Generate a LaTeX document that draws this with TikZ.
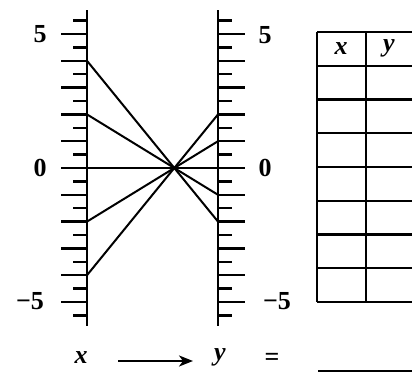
\documentclass[tikz,border=0pt]{standalone}
\usepackage{fontspec}
\setmainfont{Liberation Serif}
\usetikzlibrary{arrows.meta}
\begin{document}
\begin{tikzpicture}[x=1pt,y=-1pt,
  axisline/.style={line width=2.6pt},
  tickline/.style={line width=2.4pt},
  mapline/.style={line width=2pt},
  tabline/.style={line width=2.4pt},
  numlab/.style={font=\fontsize{26}{26}\selectfont\bfseries, inner sep=0pt},
  varlab/.style={font=\fontsize{26}{26}\selectfont\bfseries\itshape, inner sep=0pt}]
\useasboundingbox (0,0) rectangle (412,375);
\clip (0,0) rectangle (412,375);
% axes: value v -> y = 168 - 26.8 v
\coordinate (Ltop) at (87,10);
\coordinate (Lbot) at (87,326);
\coordinate (Rtop) at (218,10);
\coordinate (Rbot) at (218,326);
\draw[axisline] (Ltop) -- (Lbot);
\draw[axisline] (Rtop) -- (Rbot);
\foreach \v in {-5,...,5} {
  \draw[tickline] (61,{168-26.8*\v}) -- (87,{168-26.8*\v});
  \draw[tickline] (218,{168-26.8*\v}) -- (245,{168-26.8*\v});
}
\foreach \v in {-5.5,-4.5,...,5.5} {
  \draw[tickline] (73,{168-26.8*\v}) -- (87,{168-26.8*\v});
  \draw[tickline] (218,{168-26.8*\v}) -- (232,{168-26.8*\v});
}
% labels
\node[numlab] (l5) at (40,34) {5};
\node[numlab] (l0) at (40,168) {0};
\node[numlab] (lm5) at (30,301) {−5};
\node[numlab] (r5) at (265,35) {5};
\node[numlab] (r0) at (265,168) {0};
\node[numlab] (rm5) at (277,301) {−5};
% mapping lines
\coordinate (C) at (174.3,168);
\foreach \v in {-4,-2,0,2,4} {
  \coordinate (a\v) at (87,{168-26.8*\v});
  \coordinate (b\v) at (218,{168+13.4*\v});
  \draw[mapline] (a\v) -- (C) -- (b\v);
}
% table
\foreach \r in {0,...,8} {
  \draw[tabline] (317,{32+33.75*\r}) -- (415,{32+33.75*\r});
}
\draw[tabline] (317,32) -- (317,302);
\draw[tabline] (366,32) -- (366,302);
\draw[tabline] (415,32) -- (415,302);
\node[varlab] (tx) at (341,49) {x};
\node[varlab] (ty) at (389,48) {y};
% bottom
\node[varlab] (bx) at (81,358) {x};
\node[varlab] (by) at (220,357) {y};
\coordinate (arrS) at (118,361);
\coordinate (arrE) at (193,361);
\draw[line width=2.2pt,-{Stealth[length=14pt,width=11pt,inset=4pt]}] (arrS) -- (arrE);
\node[numlab] (eq) at (272,359) {=};
\coordinate (u1) at (318,371);
\coordinate (u2) at (412,371);
\draw[line width=2.4pt] (u1) -- (u2);
\end{tikzpicture}
\end{document}
